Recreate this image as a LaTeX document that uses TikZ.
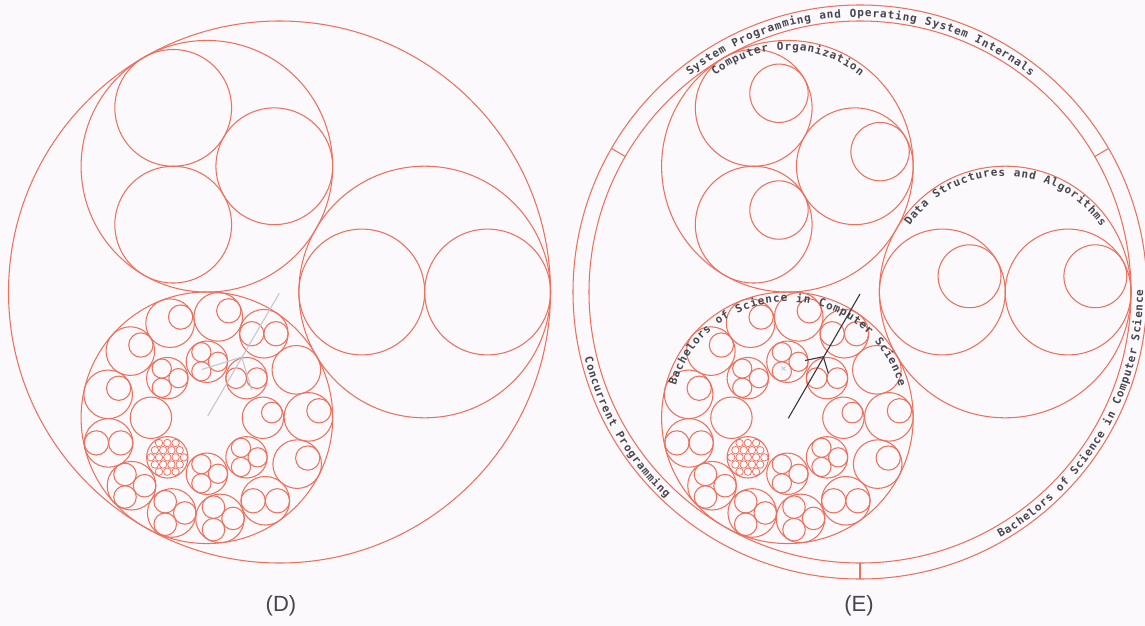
\documentclass[tikz,border=0pt]{standalone}
\usepackage{fontspec}
\setmainfont{Liberation Sans}
\newfontfamily\arcfont{DejaVu Sans Mono}
\usetikzlibrary{decorations.text}
\definecolor{circ}{RGB}{236,112,92}
\definecolor{bgc}{RGB}{252,249,252}
\definecolor{txt}{RGB}{70,70,78}
\definecolor{ptrlight}{RGB}{198,198,204}
\definecolor{ptrdark}{RGB}{55,55,58}
\newcommand\arcstyle{\arcfont\bfseries\fontsize{11}{11}\selectfont\color{txt}\kern0.9pt}
\tikzset{
  cl/.style={draw=circ, line width=1.05pt},
  thinc/.style={line width=0.75pt},
  ptrD/.style={draw=ptrlight, line width=1.1pt},
  ptrE/.style={draw=ptrdark, line width=1.1pt},
  lab/.style={font=\fontsize{22}{22}\selectfont, text=txt},
  pics/bare/.style={code={\draw[cl] (0,0) circle[radius=#1];}},
  pics/onec/.style={code={
    \draw[cl] (0,0) circle[radius=#1];
    \draw[cl] (-30:{#1/2}) circle[radius={#1/2}];}},
  pics/twoc/.style={code={
    \draw[cl] (0,0) circle[radius=#1];
    \draw[cl] ({-#1/2},0) circle[radius={#1/2}];
    \draw[cl] ({#1/2},0) circle[radius={#1/2}];}},
  pics/threec/.style={code={
    \draw[cl] (0,0) circle[radius=#1];
    \foreach \a in {0,120,240} \draw[cl] (\a:{0.5359*#1}) circle[radius={0.4641*#1}];}},
  pics/densec/.style={code={
    \draw[cl] (0,0) circle[radius=#1];
    \draw[cl,thinc] (0,0) circle[radius={0.18*#1}];
    \foreach \a in {0,60,...,300}{
      \draw[cl,thinc] (\a:{0.4*#1}) circle[radius={0.18*#1}];
      \draw[cl,thinc] (\a:{0.8*#1}) circle[radius={0.18*#1}];
      \draw[cl,thinc] ({\a+30}:{0.6928*#1}) circle[radius={0.18*#1}];
    }}},
  pics/coE/.style={code={
    \draw[cl] (0,0) circle[radius=#1];
    \foreach \a in {0,120,240} \pic at (\a:{0.5359*#1}) {onec={0.4641*#1}};}},
  pics/dsE/.style={code={
    \draw[cl] (0,0) circle[radius=#1];
    \pic at ({-#1/2},0) {onec={#1/2}};
    \pic at ({#1/2},0) {onec={#1/2}};}},
  pics/bscs/.style={code={
    \draw[cl] (0,0) circle[radius=125.8];
    \pic at (-0.5:101.5) {onec=24.3};
    \pic at (27.19:101.5) {onec=24.3};
    \pic at (54.88:101.5) {twoc=24.3};
    \pic at (82.58:101.5) {threec=24.3};
    \pic at (110.27:101.5) {threec=24.3};
    \pic at (137.96:101.5) {threec=24.3};
    \pic at (165.65:101.5) {twoc=24.3};
    \pic at (193.35:101.5) {onec=24.3};
    \pic at (221.04:101.5) {onec=24.3};
    \pic at (248.73:101.5) {onec=24.3};
    \pic at (276.42:101.5) {onec=24.3};
    \pic at (304.12:101.5) {twoc=24.3};
    \pic at (331.81:101.5) {bare=24.3};
    \pic at (0:56) {onec=20.7};
    \pic at (45:56) {threec=20.7};
    \pic at (90:56) {threec=20.7};
    \pic at (135:56) {densec=20.7};
    \pic at (180:56) {bare=20.7};
    \pic at (225:56) {threec=20.7};
    \pic at (270:56) {threec=20.7};
    \pic at (315:56) {twoc=20.7};
  }},
}
\begin{document}
\begin{tikzpicture}[x=1pt,y=-1pt]
\fill[bgc] (0,0) rectangle (1145,626);
\useasboundingbox (0,0) rectangle (1145,626);
\coordinate (Dc) at (279.5,292);
\coordinate (Ec) at (860,292);
% ---------- (D) ----------
\draw[cl] (Dc) circle[radius=271];
\pic at ([shift={(240:145.2)}]Dc) {threec=125.8};
\pic at ([shift={(0:145.2)}]Dc) {twoc=125.8};
\pic at ([shift={(120:145.2)}]Dc) {bscs};
\coordinate (pDs) at (279.3,293.3);
\coordinate (pDe) at (207.7,416);
\coordinate (pDj) at (241.7,357);
\coordinate (pDl) at (201.7,369.5);
\coordinate (pDd) at (251.7,390);
\draw[ptrD] (pDs) -- (pDe);
\draw[ptrD] (pDl) -- (pDj) -- (pDd);
\node[lab] (labD) at (281,606) {(D)};
% ---------- (E) ----------
\coordinate (CoE) at ([shift={(240:145.2)}]Ec);
\coordinate (DsE) at ([shift={(0:145.2)}]Ec);
\coordinate (BsE) at ([shift={(120:145.2)}]Ec);
\draw[cl] (Ec) circle[radius=271];
\draw[cl] (Ec) circle[radius=287];
\foreach \a in {-150,-30,90} \draw[cl] ([shift={(\a:271)}]Ec) -- ([shift={(\a:287)}]Ec);
\pic at (CoE) {coE=125.8};
\pic at (DsE) {dsE=125.8};
\pic at (BsE) {bscs};
\path[decorate, decoration={text along path, text align=center,
  text={|\arcstyle|System Programming and Operating System Internals}}]
  ([shift={(-150:275)}]Ec) arc[start angle=-150, end angle=-30, radius=275];
\path[decorate, decoration={text along path, text align=center,
  text={|\arcstyle|Concurrent Programming}}]
  ([shift={(210:283)}]Ec) arc[start angle=210, end angle=90, radius=283];
\path[decorate, decoration={text along path, text align=center,
  text={|\arcstyle|Bachelors of Science in Computer Science}}]
  ([shift={(90:283)}]Ec) arc[start angle=90, end angle=-30, radius=283];
\path[decorate, decoration={text along path, text align=center,
  text={|\arcstyle|Computer Organization}}]
  ([shift={(-165:116)}]CoE) arc[start angle=-165, end angle=-15, radius=116];
\path[decorate, decoration={text along path, text align=center,
  text={|\arcstyle|Data Structures and Algorithms}}]
  ([shift={(-170:116)}]DsE) arc[start angle=-170, end angle=-10, radius=116];
\path[decorate, decoration={text along path, text align=center,
  text={|\arcstyle|Bachelors of Science in Computer Science}}]
  ([shift={(-180:116)}]BsE) arc[start angle=-180, end angle=0, radius=116];
\coordinate (pEs) at (860,294);
\coordinate (pEe) at (788.3,418.3);
\coordinate (pEj) at (823.3,356.7);
\coordinate (pEl) at (805,360.5);
\coordinate (pEd) at (828.3,373.3);
\coordinate (pEx) at (783.5,368.5);
\draw[ptrE] (pEs) -- (pEe);
\draw[ptrE] (pEl) -- (pEj) -- (pEd);
\draw[ptrlight, line width=0.8pt] ([shift={(-2,-2)}]pEx) -- ([shift={(2,2)}]pEx) ([shift={(-2,2)}]pEx) -- ([shift={(2,-2)}]pEx);
\node[lab] (labE) at (859,606) {(E)};
\end{tikzpicture}
\end{document}
